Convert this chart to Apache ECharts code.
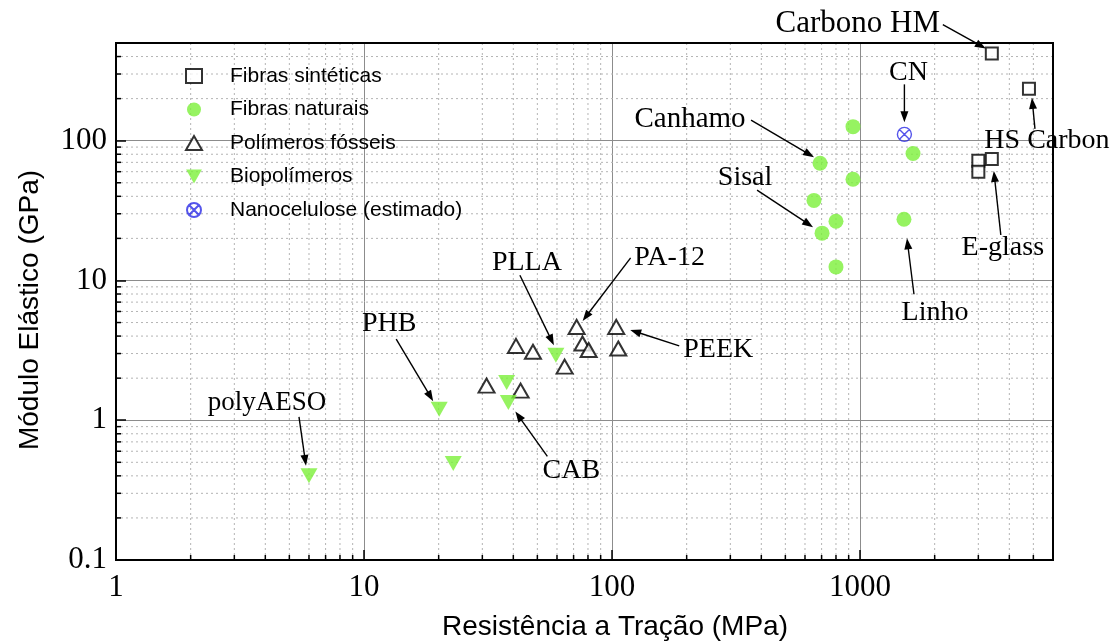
<!DOCTYPE html>
<html>
<head>
<meta charset="utf-8">
<script src="https://cdn.jsdelivr.net/npm/echarts@6/dist/echarts.min.js"></script>
<style>
  html, body { margin: 0; padding: 0; background: #fff; }
  #chart { width: 1116px; height: 644px; }
</style>
</head>
<body>
<div id="chart"></div>
<script>
// Tensile strength (MPa) vs. elastic modulus (GPa), log-log
const synthX = [3400, 4800, 3000, 3000, 3400];
const synthY = [420, 235, 72, 60, 74];

const naturalX = [937, 1636, 690, 937, 652, 800, 703, 800, 1504];
const naturalY = [126, 81, 69, 53, 37.4, 26.5, 21.8, 12.5, 27.4];

const fossilX = [72, 104, 41, 48, 76, 80.5, 106, 64.4, 31.2, 42.8];
const fossilY = [4.65, 4.65, 3.4, 3.09, 3.54, 3.18, 3.26, 2.42, 1.77, 1.63];

const bioX = [59.4, 37.6, 38.2, 20.1, 6.0, 22.9];
const bioY = [2.92, 1.86, 1.34, 1.2, 0.4, 0.49];

const nanoX = [1510];
const nanoY = [111];

const seriesNames = ['Fibras sintéticas', 'Fibras naturais', 'Polímeros fósseis', 'Biopolímeros', 'Nanocelulose (estimado)'];

const xTicks = [1, 10, 100, 1000];
const xTickLabels = ['1', '10', '100', '1000'];
const yTicks = [0.1, 1, 10, 100];
const yTickLabels = ['0.1', '1', '10', '100'];

const xMinorTicks = [2, 3, 4, 5, 6, 7, 8, 9, 20, 30, 40, 50, 60, 70, 80, 90,
  200, 300, 400, 500, 600, 700, 800, 900, 2000, 3000, 4000, 5000];
const yMinorTicks = [0.2, 0.3, 0.4, 0.5, 0.6, 0.7, 0.8, 0.9, 2, 3, 4, 5, 6, 7, 8, 9,
  20, 30, 40, 50, 60, 70, 80, 90, 200, 300, 400];

const xTitle = 'Resistência a Tração (MPa)';
const yTitle = 'Módulo Elástico (GPa)';

const GREEN = '#7cf03a';
const SERIF = '"Liberation Serif", "Times New Roman", serif';
const SANS = '"Liberation Sans", Arial, sans-serif';

const sets = {
  synth: [synthX, synthY],
  natural: [naturalX, naturalY],
  fossil: [fossilX, fossilY],
  bio: [bioX, bioY],
  nano: [nanoX, nanoY]
};

// Callouts: which point they point at, and pixel offsets from that point
const callouts = [
  { text: 'Carbono HM', set: 'synth', i: 0, label: [-134, -30], from: [-49, -29], to: [-6, -5], size: 31 },
  { text: 'CN', set: 'nano', i: 0, label: [4, -62], from: [0, -50], to: [0, -12] },
  { text: 'HS Carbon', set: 'synth', i: 1, label: [18, 52], from: [6, 40], to: [3, 9] },
  { text: 'E-glass', set: 'synth', i: 4, label: [11, 89], from: [9, 76], to: [2, 12] },
  { text: 'Linho', set: 'natural', i: 8, label: [31, 93], from: [10, 75], to: [3, 19] },
  { text: 'Sisal', set: 'natural', i: 6, label: [-77, -56], from: [-65, -43], to: [-9, -6] },
  { text: 'Canhamo', set: 'natural', i: 2, label: [-130, -44], from: [-69, -43], to: [-6, -6], size: 29 },
  { text: 'PLLA', set: 'bio', i: 0, label: [-29, -93], from: [-36, -80], to: [-2, -10] },
  { text: 'PA-12', set: 'fossil', i: 0, label: [93, -69], from: [54, -69], to: [6, -6] },
  { text: 'PEEK', set: 'fossil', i: 1, label: [102, 23], from: [63, 19], to: [14, 3] },
  { text: 'PHB', set: 'bio', i: 3, label: [-50, -86], from: [-43, -70], to: [-6, -8] },
  { text: 'polyAESO', set: 'bio', i: 4, label: [-42, -73], from: [-10, -59], to: [-3, -10], size: 27 },
  { text: 'CAB', set: 'bio', i: 2, label: [63, 68], from: [39, 54], to: [7, 9] }
];

function pairs(xs, ys) { return xs.map((x, k) => [x, ys[k]]); }

function tickFormatter(ticks, labels) {
  return function (v) {
    for (let k = 0; k < ticks.length; k++) {
      if (Math.abs(v - ticks[k]) <= ticks[k] * 1e-6) return labels[k];
    }
    return '';
  };
}

// Minor grid lines (dotted) plus short inward minor ticks
function minorX(params, api) {
  const cs = params.coordSys;
  const x = api.coord([api.value(0), 1])[0];
  const bottom = cs.y + cs.height;
  return {
    type: 'group',
    children: [
      { type: 'line', shape: { x1: x, y1: cs.y, x2: x, y2: bottom },
        style: { stroke: '#b4b4b4', lineWidth: 1, lineDash: [2, 3] } },
      { type: 'line', shape: { x1: x, y1: bottom, x2: x, y2: bottom - 5 },
        style: { stroke: '#000', lineWidth: 1.5 } }
    ]
  };
}
function minorY(params, api) {
  const cs = params.coordSys;
  const y = api.coord([1, api.value(1)])[1];
  return {
    type: 'group',
    children: [
      { type: 'line', shape: { x1: cs.x, y1: y, x2: cs.x + cs.width, y2: y },
        style: { stroke: '#b4b4b4', lineWidth: 1, lineDash: [2, 3] } },
      { type: 'line', shape: { x1: cs.x, y1: y, x2: cs.x + 5, y2: y },
        style: { stroke: '#000', lineWidth: 1.5 } }
    ]
  };
}

const crossCircle = 'path://M0,7 A7,7 0 1 1 14,7 A7,7 0 1 1 0,7 Z M2.05,2.05 L11.95,11.95 M11.95,2.05 L2.05,11.95';
const downTriangle = 'path://M0,0 L17,0 L8.5,15 Z';

const chart = echarts.init(document.getElementById('chart'), null, { renderer: 'canvas' });

const option = {
  animation: false,
  backgroundColor: '#fff',
  grid: {
    left: 116, top: 43, width: 937, height: 517,
    show: true, borderColor: '#000', borderWidth: 2, backgroundColor: 'transparent', z: 5
  },
  xAxis: {
    type: 'log', logBase: 10, min: 1, max: 6000,
    axisLine: { show: true, onZero: false, lineStyle: { color: '#000', width: 2 } },
    axisTick: { show: true, inside: true, length: 10, lineStyle: { color: '#000', width: 1.5 } },
    axisLabel: { formatter: tickFormatter(xTicks, xTickLabels), fontFamily: SERIF, fontSize: 31, color: '#000', margin: 12 },
    splitLine: { show: true, lineStyle: { color: '#8c8c8c', width: 1 } }
  },
  yAxis: {
    type: 'log', logBase: 10, min: 0.1, max: 500,
    axisLine: { show: true, onZero: false, lineStyle: { color: '#000', width: 2 } },
    axisTick: { show: true, inside: true, length: 10, lineStyle: { color: '#000', width: 1.5 } },
    axisLabel: { formatter: tickFormatter(yTicks, yTickLabels), fontFamily: SERIF, fontSize: 31, color: '#000', margin: 9 },
    splitLine: { show: true, lineStyle: { color: '#8c8c8c', width: 1 } }
  },
  legend: {
    data: seriesNames.map(n => n === 'Biopolímeros' ? { name: n, icon: downTriangle } : n),
    orient: 'vertical',
    left: 180, top: 60,
    itemWidth: 16, itemHeight: 14, itemGap: 11.5,
    symbolKeepAspect: true,
    textStyle: { fontFamily: SANS, fontSize: 21, color: '#000', lineHeight: 22, padding: [0, 0, 0, 23] },
    selectedMode: false
  },
  series: [
    { type: 'custom', name: 'xminor', silent: true, z: 1, renderItem: minorX,
      data: xMinorTicks.map(v => [v, 1]) },
    { type: 'custom', name: 'yminor', silent: true, z: 1, renderItem: minorY,
      data: yMinorTicks.map(v => [1, v]) },
    { type: 'scatter', name: seriesNames[0], z: 10, symbol: 'emptyRect', symbolSize: 12,
      itemStyle: { color: '#000', borderWidth: 1.3 }, data: pairs(synthX, synthY) },
    { type: 'scatter', name: seriesNames[1], z: 10, symbol: 'circle', symbolSize: 15,
      itemStyle: { color: GREEN }, data: pairs(naturalX, naturalY) },
    { type: 'scatter', name: seriesNames[2], z: 10, symbol: 'emptyTriangle', symbolSize: [16, 14],
      itemStyle: { color: '#000', borderWidth: 1.3 }, data: pairs(fossilX, fossilY) },
    { type: 'scatter', name: seriesNames[3], z: 10, symbol: 'triangle', symbolRotate: 180, symbolSize: [17, 15],
      itemStyle: { color: GREEN }, data: pairs(bioX, bioY) },
    { type: 'scatter', name: seriesNames[4], z: 10, symbol: crossCircle, symbolSize: 14,
      itemStyle: { color: 'rgba(0,0,0,0)', borderColor: '#2a2ae6', borderWidth: 1.4 },
      data: pairs(nanoX, nanoY) }
  ]
};

chart.setOption(option);

// Axis titles and callouts with arrows
const graphics = [
  { type: 'text', x: 615, y: 627, z: 50,
    style: { text: xTitle, font: '28px ' + SANS, fill: '#000', align: 'center', verticalAlign: 'middle' } },
  { type: 'text', x: 30, y: 310, rotation: Math.PI / 2, z: 50,
    style: { text: yTitle, font: '28px ' + SANS, fill: '#000', align: 'center', verticalAlign: 'middle' } }
];

callouts.forEach(c => {
  const src = sets[c.set];
  const p = chart.convertToPixel({ gridIndex: 0 }, [src[0][c.i], src[1][c.i]]);
  const x1 = p[0] + c.from[0], y1 = p[1] + c.from[1];
  const x2 = p[0] + c.to[0], y2 = p[1] + c.to[1];
  const dx = x2 - x1, dy = y2 - y1, len = Math.hypot(dx, dy);
  const ux = dx / len, uy = dy / len;
  const headL = 11, headW = 4;
  const bx = x2 - ux * headL, by = y2 - uy * headL;
  graphics.push({ type: 'line', z: 40,
    shape: { x1: x1, y1: y1, x2: bx + ux * 2, y2: by + uy * 2 },
    style: { stroke: '#000', lineWidth: 1.4 } });
  graphics.push({ type: 'polygon', z: 40,
    shape: { points: [[x2, y2], [bx - uy * headW, by + ux * headW], [bx + uy * headW, by - ux * headW]] },
    style: { fill: '#000' } });
  graphics.push({ type: 'text', z: 40, x: p[0] + c.label[0], y: p[1] + c.label[1],
    style: { text: c.text, font: (c.size || 28) + 'px ' + SERIF, fill: '#000', align: 'center', verticalAlign: 'middle' } });
});

chart.setOption({ graphic: graphics });
</script>
</body>
</html>
